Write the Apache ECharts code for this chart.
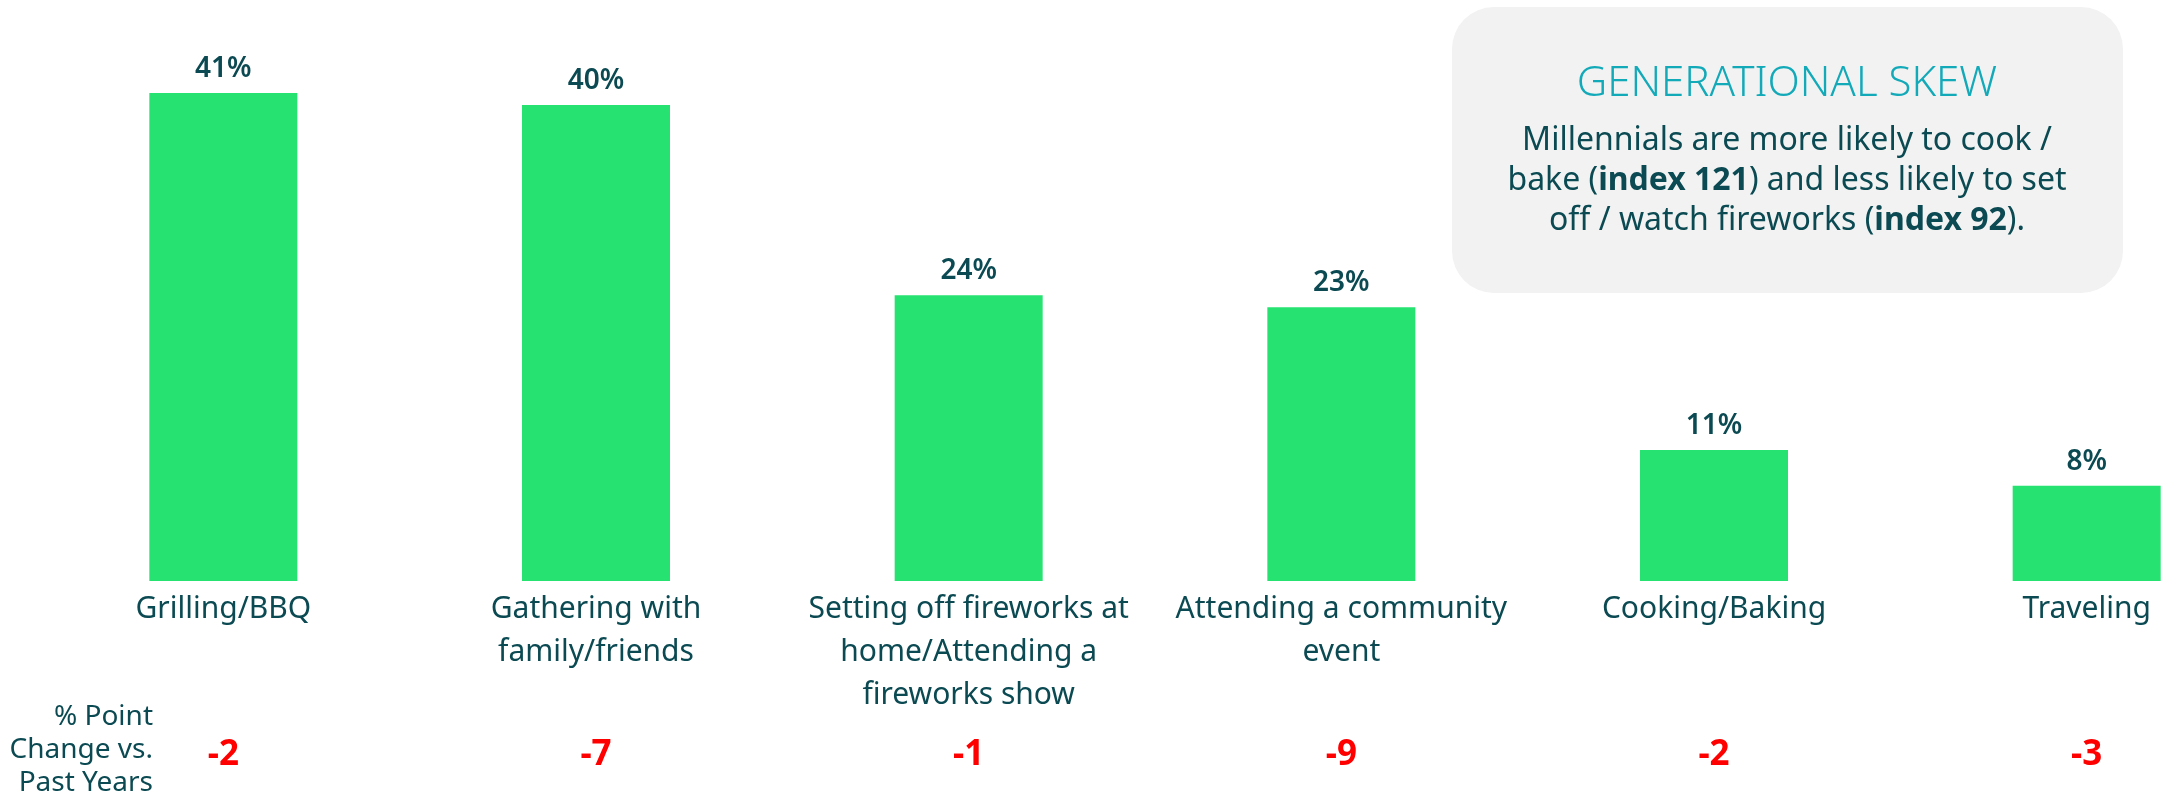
<!DOCTYPE html>
<html>
<head>
<meta charset="utf-8">
<style>
html,body{margin:0;padding:0;background:#fff;}
#chart{width:2164px;height:798px;}
</style>
<script src="https://cdn.jsdelivr.net/npm/echarts@6/dist/echarts.min.js"></script>
</head>
<body>
<div id="chart"></div>
<script>
const categories = [
  'Grilling/BBQ',
  'Gathering with\nfamily/friends',
  'Setting off fireworks at\nhome/Attending a\nfireworks show',
  'Attending a community\nevent',
  'Cooking/Baking',
  'Traveling'
];
const shares = [41, 40, 24, 23, 11, 8];
const changes = [-2, -7, -1, -9, -2, -3];
const rowLabel = '% Point\nChange vs.\nPast Years';

const FONT = '"Noto Sans", sans-serif';
const DARK = '#0b4a52';

const chart = echarts.init(document.getElementById('chart'));
chart.setOption({
  backgroundColor: '#ffffff',
  animation: false,
  grid: { left: 37, top: 43, width: 2236, height: 538, containLabel: false, outerBoundsMode: 'none' },
  xAxis: [
    {
      type: 'category',
      data: categories,
      axisLine: { show: false },
      axisTick: { show: false },
      axisLabel: {
        interval: 0,
        margin: 7,
        fontFamily: FONT,
        fontSize: 30,
        lineHeight: 43,
        color: DARK
      }
    },
    {
      type: 'category',
      position: 'bottom',
      data: changes.map(v => String(v)),
      axisLine: { show: false },
      axisTick: { show: false },
      axisLabel: {
        interval: 0,
        margin: 155,
        fontFamily: FONT,
        fontSize: 35,
        fontWeight: 'bold',
        lineHeight: 38,
        color: '#ff0000'
      }
    }
  ],
  yAxis: { type: 'value', min: 0, max: 45.2, show: false, splitLine: { show: false } },
  series: [{
    type: 'bar',
    data: shares,
    barWidth: 148,
    itemStyle: { color: '#26e371' },
    label: {
      show: true,
      position: 'top',
      distance: 10,
      formatter: p => p.value + '%',
      fontFamily: FONT,
      fontSize: 28,
      fontWeight: 600,
      color: DARK
    }
  }],
  graphic: [
    {
      type: 'text',
      x: 153, y: 701,
      style: {
        text: rowLabel,
        align: 'right',
        verticalAlign: 'top',
        fontFamily: FONT,
        fontSize: 28,
        lineHeight: 33,
        fill: DARK
      }
    },
    {
      type: 'rect',
      shape: { x: 1452, y: 7, width: 671, height: 286, r: 42 },
      style: { fill: '#f2f2f2' }
    },
    {
      type: 'text',
      x: 1787, y: 84,
      style: {
        text: 'GENERATIONAL SKEW',
        align: 'center',
        verticalAlign: 'middle',
        fontFamily: FONT,
        fontSize: 42,
        fontWeight: 300,
        fill: '#12a9b9'
      }
    },
    {
      type: 'text',
      x: 1787, y: 121,
      style: {
        text: '{n|Millennials are more likely to cook /}\n{n|bake (}{b|index 121}{n|) and less likely to set}\n{n|off / watch fireworks (}{b|index 92}{n|).}',
        align: 'center',
        verticalAlign: 'top',
        fontFamily: FONT,
        fontSize: 32,
        lineHeight: 40,
        fill: DARK,
        rich: {
          n: { fontFamily: FONT, fontSize: 32, lineHeight: 40, fill: DARK, color: DARK },
          b: { fontFamily: FONT, fontSize: 32, lineHeight: 40, fontWeight: 'bold', fill: DARK, color: DARK }
        }
      }
    }
  ]
});
</script>
</body>
</html>
